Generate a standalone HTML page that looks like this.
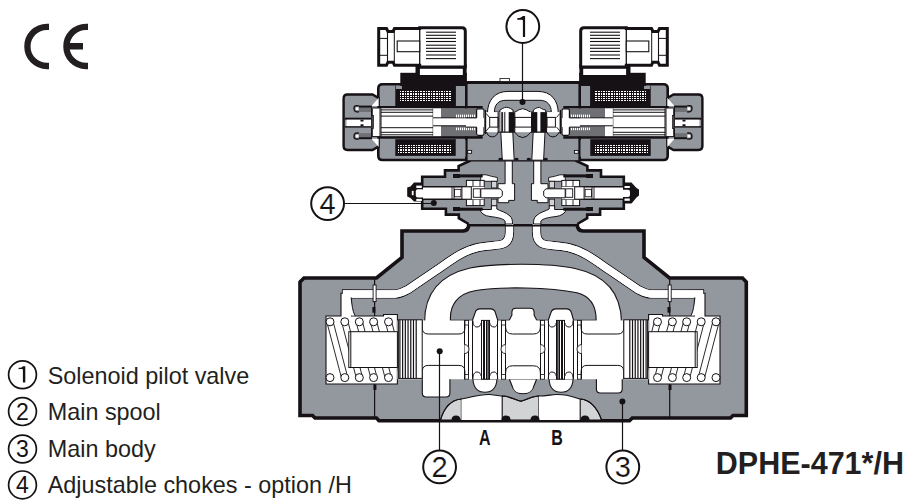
<!DOCTYPE html>
<html><head><meta charset="utf-8"><style>
html,body{margin:0;padding:0;background:#fff;}
body{width:908px;height:504px;overflow:hidden;position:relative;}
svg{position:absolute;left:0;top:0;}
.t{font-family:"Liberation Sans",sans-serif;}
</style></head><body>
<svg width="908" height="504" viewBox="0 0 908 504">
<g fill="none" stroke="#231f20" stroke-width="6.3"><path d="M49,26.8 L47,26.8 A19.6,19.6 0 0 0 47,66 L49,66"/><path d="M88,26.8 L86,26.8 A19.6,19.6 0 0 0 86,66 L88,66"/></g>
<rect x="64.50" y="43.00" width="18.50" height="6.50" fill="#231f20" />
<path d="M300,415.5 L312.5,415.5 L315,418 L376.5,418 L379,420.8 L629.5,420.8 L632.3,418 L730.5,418 L733,415.5 L746.3,415.5 L746.3,282 L742.5,278 L669.5,278 L644,257.5 L644,231 L583,231 Q577,230.5 577.3,224 L468.7,224 Q469,230.5 463,231 L402,231 L402,257.5 L376.5,278 L304,278 L300,282 Z" fill="#93979e" stroke="#151115" stroke-width="3.6" /><path d="M346.5,318 L346.5,293.8 L395,294 C400,294 403,292 408,289.5 L436,270.5 C450,261 462,251 478,247.5 C490,245 499,246 504,243.5 C508.5,241 509.5,237 509.5,232 L509.5,222" fill="none" stroke="#151115" stroke-width="9.2" /><path d="M699.5,318 L699.5,293.8 L651,294 C646,294 643,292 638,289.5 L610,270.5 C596,261 584,251 568,247.5 C556,245 547,246 542,243.5 C537.5,241 536.5,237 536.5,232 L536.5,222" fill="none" stroke="#151115" stroke-width="9.2" /><path d="M346.5,318 L346.5,293.8 L395,294 C400,294 403,292 408,289.5 L436,270.5 C450,261 462,251 478,247.5 C490,245 499,246 504,243.5 C508.5,241 509.5,237 509.5,232 L509.5,222" fill="none" stroke="#ffffff" stroke-width="7.3" /><path d="M699.5,318 L699.5,293.8 L651,294 C646,294 643,292 638,289.5 L610,270.5 C596,261 584,251 568,247.5 C556,245 547,246 542,243.5 C537.5,241 536.5,237 536.5,232 L536.5,222" fill="none" stroke="#ffffff" stroke-width="7.3" /><path d="M424.6,322 C424.6,292 440,275 470,268 C495,263 550,263 575,268.5 C605,275 621,292 621.5,322 Z" fill="#ffffff" stroke="#151115" stroke-width="1.1" /><path d="M450.5,320.4 C449.5,306 457,293.5 476,290.5 C500,286.5 550,287 577,292.8 C590,296 596.2,306 596.2,320.4 L573.6,320.4 L571.5,313 Q570.5,308.9 566.5,308.9 L556,308.9 Q552,308.9 550.8,313 L548.2,320.4 L536.9,320.4 L534.1,315.2 L534.1,312.2 Q534,308.25 530,308.25 L516,308.25 Q512,308.25 511.9,312.2 L511.9,315.2 L509.1,320.4 L497.8,320.4 L495.5,313 Q494.5,308.9 490.5,308.9 L480,308.9 Q476,308.9 475,313 L472.4,320.4 Z" fill="#93979e" stroke="#151115" stroke-width="1.1" /><path d="M326,316 L341,316 L341,293.2 L351.5,293.2 L351.5,316 L383.5,316 L383.5,314.5 L397.4,314.5 L397.4,384 L326,384 Z" fill="#ffffff" stroke="#151115" stroke-width="1.1" /><path d="M720,316 L705,316 L705,293.2 L694.5,293.2 L694.5,316 L662.5,316 L662.5,314.5 L648.6,314.5 L648.6,384 L720,384 Z" fill="#ffffff" stroke="#151115" stroke-width="1.1" /><path d="M346.5,318 L346.5,293.8 L395,294 C400,294 403,292 408,289.5 L436,270.5 C450,261 462,251 478,247.5 C490,245 499,246 504,243.5 C508.5,241 509.5,237 509.5,232 L509.5,222" fill="none" stroke="#ffffff" stroke-width="7.3" /><path d="M699.5,318 L699.5,293.8 L651,294 C646,294 643,292 638,289.5 L610,270.5 C596,261 584,251 568,247.5 C556,245 547,246 542,243.5 C537.5,241 536.5,237 536.5,232 L536.5,222" fill="none" stroke="#ffffff" stroke-width="7.3" /><path d="M349.3,297.6 L351.1,297.6 C352,305 352.5,311 355,315.6 L349.3,315.6 Z" fill="#ffffff" /><path d="M696.7,297.6 L694.9,297.6 C694,305 693.5,311 691,315.6 L696.7,315.6 Z" fill="#ffffff" /><path d="M351.1,297.6 C352,305 352.5,311 355,315.6" fill="none" stroke="#151115" stroke-width="1" /><path d="M694.9,297.6 C694,305 693.5,311 691,315.6" fill="none" stroke="#151115" stroke-width="1" /><path d="M422.3,378 L422.3,393 Q422.3,397 426.3,397 L445.9,397 Q449.9,397 449.9,393 L449.9,378" fill="#ffffff" stroke="#151115" stroke-width="1.1" /><path d="M596.4,378 L596.4,389 Q596.4,393 600.4,393 L618.2,393 Q622.2,393 622.2,389 L622.2,378" fill="#ffffff" stroke="#151115" stroke-width="1.1" /><path d="M472.9,379 C473.2,384 474.4,392.3 484.95,392.3 C495.5,392.3 496.7,384 497,379 Z" fill="#ffffff" stroke="#151115" stroke-width="1.1" /><path d="M549,379 C549.3,384 550.5,392.3 561.05,392.3 C571.6,392.3 572.8000000000001,384 573.1,379 Z" fill="#ffffff" stroke="#151115" stroke-width="1.1" /><path d="M509.3,379 L512,385.7 C513,390 515,393.7 523,393.7 C531,393.7 533,390 534,385.7 L536.7,379 Z" fill="#ffffff" stroke="#151115" stroke-width="1.1" /><rect x="397.40" y="320.40" width="251.20" height="58.80" fill="#ffffff" /><path d="M440.5,420 C444,408 450,400 461.4,399 L461.4,420 Z" fill="#d2d3d5" stroke="#151115" stroke-width="1.1" /><path d="M461.4,420 L461.4,399 C470,398 478,394 490,394.5 C496,395 500,396 502.2,396 L502.2,420 Z" fill="#ffffff" /><path d="M502.2,420 L502.2,396 C510,396 515,400 521,401.2 C527,400 532,396 538.8,396 L538.8,420 Z" fill="#d2d3d5" stroke="#151115" stroke-width="1.1" /><path d="M538.8,420 L538.8,396 C545,396 550,395 556,394.5 C568,394 576,398 580.2,399 L580.2,420 Z" fill="#ffffff" /><path d="M580.2,420 L580.2,399 C592,400 598,410 601.6,420 Z" fill="#d2d3d5" stroke="#151115" stroke-width="1.1" /><path d="M440.5,420 C444,408 450,400 461.4,399 C470,398 478,394 490,394.5 C496,395 500,396 502.2,396 C510,396 515,400 521,401.2 C527,400 532,396 538.8,396 C545,396 550,395 556,394.5 C568,394 576,398 580.2,399 C592,400 598,410 601.6,420" fill="none" stroke="#151115" stroke-width="1.1" /><path d="M451.5,420 Q451.5,415.5 456,415.5 Q460.5,415.5 460.5,420 Z" fill="#151115" /><path d="M501.5,420 Q501.5,415.5 506,415.5 Q510.5,415.5 510.5,420 Z" fill="#151115" /><path d="M530.5,420 Q530.5,415.5 535,415.5 Q539.5,415.5 539.5,420 Z" fill="#151115" /><path d="M580.5,420 Q580.5,415.5 585,415.5 Q589.5,415.5 589.5,420 Z" fill="#151115" /><line x1="464.50" y1="320.40" x2="464.50" y2="379.20" stroke="#151115" stroke-width="1.0"/><line x1="468.50" y1="320.40" x2="468.50" y2="379.20" stroke="#151115" stroke-width="1.0"/><line x1="472.50" y1="320.40" x2="472.50" y2="379.20" stroke="#151115" stroke-width="1.0"/><line x1="497.50" y1="320.40" x2="497.50" y2="379.20" stroke="#151115" stroke-width="1.0"/><line x1="501.50" y1="320.40" x2="501.50" y2="379.20" stroke="#151115" stroke-width="1.0"/><line x1="505.50" y1="320.40" x2="505.50" y2="379.20" stroke="#151115" stroke-width="1.0"/><rect x="481.50" y="320.40" width="8.00" height="58.80" fill="#ffffff" stroke="#151115" stroke-width="1" /><rect x="483.00" y="320.40" width="2.00" height="58.80" fill="#151115" /><rect x="486.00" y="320.40" width="1.60" height="58.80" fill="#151115" /><line x1="488.50" y1="320.40" x2="488.50" y2="379.20" stroke="#151115" stroke-width="0.8"/><path d="M472.9,320.4 C473,325 474.5,327 477,327 C479.5,327 481.1,325 481.1,323" fill="none" stroke="#151115" stroke-width="1" /><path d="M489.8,323 C489.8,325 491.5,327 494,327 C496.5,327 497.7,325 497.7,320.4" fill="none" stroke="#151115" stroke-width="1" /><path d="M472.9,379.2 C473,374 474.5,372 477,372 C479.5,372 481.1,374 481.1,376" fill="none" stroke="#151115" stroke-width="1" /><path d="M489.8,376 C489.8,374 491.5,372 494,372 C496.5,372 497.7,374 497.7,379.2" fill="none" stroke="#151115" stroke-width="1" /><rect x="464.50" y="320.40" width="4.00" height="4.60" fill="#ffffff" stroke="#151115" stroke-width="0.8" /><rect x="464.50" y="374.60" width="4.00" height="4.60" fill="#ffffff" stroke="#151115" stroke-width="0.8" /><rect x="501.50" y="320.40" width="4.00" height="4.60" fill="#ffffff" stroke="#151115" stroke-width="0.8" /><rect x="501.50" y="374.60" width="4.00" height="4.60" fill="#ffffff" stroke="#151115" stroke-width="0.8" /><path d="M464.5,344.6 A4.5,4.5 0 0 1 464.5,353.6" fill="#ffffff" stroke="#151115" stroke-width="0.9" /><path d="M505.5,344.6 A4.5,4.5 0 0 0 505.5,353.6" fill="#ffffff" stroke="#151115" stroke-width="0.9" /><g transform="matrix(-1 0 0 1 1046 0)"><line x1="464.50" y1="320.40" x2="464.50" y2="379.20" stroke="#151115" stroke-width="1.0"/><line x1="468.50" y1="320.40" x2="468.50" y2="379.20" stroke="#151115" stroke-width="1.0"/><line x1="472.50" y1="320.40" x2="472.50" y2="379.20" stroke="#151115" stroke-width="1.0"/><line x1="497.50" y1="320.40" x2="497.50" y2="379.20" stroke="#151115" stroke-width="1.0"/><line x1="501.50" y1="320.40" x2="501.50" y2="379.20" stroke="#151115" stroke-width="1.0"/><line x1="505.50" y1="320.40" x2="505.50" y2="379.20" stroke="#151115" stroke-width="1.0"/><rect x="481.50" y="320.40" width="8.00" height="58.80" fill="#ffffff" stroke="#151115" stroke-width="1" /><rect x="483.00" y="320.40" width="2.00" height="58.80" fill="#151115" /><rect x="486.00" y="320.40" width="1.60" height="58.80" fill="#151115" /><line x1="488.50" y1="320.40" x2="488.50" y2="379.20" stroke="#151115" stroke-width="0.8"/><path d="M472.9,320.4 C473,325 474.5,327 477,327 C479.5,327 481.1,325 481.1,323" fill="none" stroke="#151115" stroke-width="1" /><path d="M489.8,323 C489.8,325 491.5,327 494,327 C496.5,327 497.7,325 497.7,320.4" fill="none" stroke="#151115" stroke-width="1" /><path d="M472.9,379.2 C473,374 474.5,372 477,372 C479.5,372 481.1,374 481.1,376" fill="none" stroke="#151115" stroke-width="1" /><path d="M489.8,376 C489.8,374 491.5,372 494,372 C496.5,372 497.7,374 497.7,379.2" fill="none" stroke="#151115" stroke-width="1" /><rect x="464.50" y="320.40" width="4.00" height="4.60" fill="#ffffff" stroke="#151115" stroke-width="0.8" /><rect x="464.50" y="374.60" width="4.00" height="4.60" fill="#ffffff" stroke="#151115" stroke-width="0.8" /><rect x="501.50" y="320.40" width="4.00" height="4.60" fill="#ffffff" stroke="#151115" stroke-width="0.8" /><rect x="501.50" y="374.60" width="4.00" height="4.60" fill="#ffffff" stroke="#151115" stroke-width="0.8" /><path d="M464.5,344.6 A4.5,4.5 0 0 1 464.5,353.6" fill="#ffffff" stroke="#151115" stroke-width="0.9" /><path d="M505.5,344.6 A4.5,4.5 0 0 0 505.5,353.6" fill="#ffffff" stroke="#151115" stroke-width="0.9" /></g><path d="M505.6,320.4 L505.6,327 Q505.6,334 512.6,334 L533.4,334 Q540.4,334 540.4,327 L540.4,320.4" fill="none" stroke="#151115" stroke-width="1" /><path d="M505.6,379.2 L505.6,372.8 Q505.6,365.8 512.6,365.8 L533.4,365.8 Q540.4,365.8 540.4,372.8 L540.4,379.2" fill="none" stroke="#151115" stroke-width="1" /><path d="M422.3,320.4 L422.3,328 Q422.3,334 428.3,334 L458.9,334 Q464.9,334 464.9,328 L464.9,320.4" fill="none" stroke="#151115" stroke-width="1" /><path d="M422.3,379.2 L422.3,371.4 Q422.3,365.4 428.3,365.4 L458.9,365.4 Q464.9,365.4 464.9,371.4 L464.9,379.2" fill="none" stroke="#151115" stroke-width="1" /><path d="M581.1,320.4 L581.1,328 Q581.1,334 587.1,334 L617.7,334 Q623.7,334 623.7,328 L623.7,320.4" fill="none" stroke="#151115" stroke-width="1" /><path d="M581.1,379.2 L581.1,371.4 Q581.1,365.4 587.1,365.4 L617.7,365.4 Q623.7,365.4 623.7,371.4 L623.7,379.2" fill="none" stroke="#151115" stroke-width="1" /><rect x="398.40" y="319.80" width="23.80" height="58.60" fill="#ffffff" stroke="#151115" stroke-width="1" /><line x1="399.90" y1="319.80" x2="399.90" y2="378.40" stroke="#151115" stroke-width="1.2"/><line x1="402.62" y1="319.80" x2="402.62" y2="378.40" stroke="#151115" stroke-width="1.2"/><line x1="405.33" y1="319.80" x2="405.33" y2="378.40" stroke="#151115" stroke-width="1.2"/><line x1="408.05" y1="319.80" x2="408.05" y2="378.40" stroke="#151115" stroke-width="1.2"/><line x1="410.77" y1="319.80" x2="410.77" y2="378.40" stroke="#151115" stroke-width="1.2"/><line x1="413.48" y1="319.80" x2="413.48" y2="378.40" stroke="#151115" stroke-width="1.2"/><line x1="416.20" y1="319.80" x2="416.20" y2="378.40" stroke="#151115" stroke-width="1.2"/><rect x="623.80" y="319.80" width="23.80" height="58.60" fill="#ffffff" stroke="#151115" stroke-width="1" /><line x1="646.10" y1="319.80" x2="646.10" y2="378.40" stroke="#151115" stroke-width="1.2"/><line x1="643.38" y1="319.80" x2="643.38" y2="378.40" stroke="#151115" stroke-width="1.2"/><line x1="640.67" y1="319.80" x2="640.67" y2="378.40" stroke="#151115" stroke-width="1.2"/><line x1="637.95" y1="319.80" x2="637.95" y2="378.40" stroke="#151115" stroke-width="1.2"/><line x1="635.23" y1="319.80" x2="635.23" y2="378.40" stroke="#151115" stroke-width="1.2"/><line x1="632.52" y1="319.80" x2="632.52" y2="378.40" stroke="#151115" stroke-width="1.2"/><line x1="629.80" y1="319.80" x2="629.80" y2="378.40" stroke="#151115" stroke-width="1.2"/><rect x="348.80" y="331.70" width="48.60" height="35.80" fill="#ffffff" stroke="#151115" stroke-width="1" /><line x1="350.80" y1="331.70" x2="350.80" y2="367.50" stroke="#151115" stroke-width="1"/><clipPath id="spc0"><path d="M326,316 L397.4,316 L397.4,331.7 L348.8,331.7 L348.8,367.5 L397.4,367.5 L397.4,384 L326,384 Z"/></clipPath><g clip-path="url(#spc0)"><line x1="326.80" y1="321.80" x2="341.40" y2="377.60" stroke="#151115" stroke-width="0.9"/><line x1="333.20" y1="321.80" x2="347.80" y2="377.60" stroke="#151115" stroke-width="0.9"/><line x1="341.60" y1="321.80" x2="356.20" y2="377.60" stroke="#151115" stroke-width="0.9"/><line x1="348.00" y1="321.80" x2="362.60" y2="377.60" stroke="#151115" stroke-width="0.9"/><line x1="356.10" y1="321.80" x2="370.70" y2="377.60" stroke="#151115" stroke-width="0.9"/><line x1="362.50" y1="321.80" x2="377.10" y2="377.60" stroke="#151115" stroke-width="0.9"/><line x1="370.40" y1="321.80" x2="385.00" y2="377.60" stroke="#151115" stroke-width="0.9"/><line x1="376.80" y1="321.80" x2="391.40" y2="377.60" stroke="#151115" stroke-width="0.9"/><line x1="385.30" y1="321.80" x2="399.90" y2="377.60" stroke="#151115" stroke-width="0.9"/><line x1="391.70" y1="321.80" x2="406.30" y2="377.60" stroke="#151115" stroke-width="0.9"/></g><circle cx="330.00" cy="321.80" r="4" fill="#ffffff" stroke="#151115" stroke-width="1"/><circle cx="330.00" cy="377.60" r="4" fill="#ffffff" stroke="#151115" stroke-width="1"/><circle cx="344.80" cy="321.80" r="4" fill="#ffffff" stroke="#151115" stroke-width="1"/><circle cx="344.80" cy="377.60" r="4" fill="#ffffff" stroke="#151115" stroke-width="1"/><circle cx="359.30" cy="321.80" r="4" fill="#ffffff" stroke="#151115" stroke-width="1"/><circle cx="359.30" cy="377.60" r="4" fill="#ffffff" stroke="#151115" stroke-width="1"/><circle cx="373.60" cy="321.80" r="4" fill="#ffffff" stroke="#151115" stroke-width="1"/><circle cx="373.60" cy="377.60" r="4" fill="#ffffff" stroke="#151115" stroke-width="1"/><circle cx="388.50" cy="321.80" r="4" fill="#ffffff" stroke="#151115" stroke-width="1"/><circle cx="388.50" cy="377.60" r="4" fill="#ffffff" stroke="#151115" stroke-width="1"/><rect x="648.60" y="331.70" width="48.60" height="35.80" fill="#ffffff" stroke="#151115" stroke-width="1" /><line x1="695.20" y1="331.70" x2="695.20" y2="367.50" stroke="#151115" stroke-width="1"/><clipPath id="spc1"><path d="M720,316 L648.6,316 L648.6,331.7 L697.2,331.7 L697.2,367.5 L648.6,367.5 L648.6,384 L720,384 Z"/></clipPath><g clip-path="url(#spc1)"><line x1="712.80" y1="321.80" x2="698.20" y2="377.60" stroke="#151115" stroke-width="0.9"/><line x1="719.20" y1="321.80" x2="704.60" y2="377.60" stroke="#151115" stroke-width="0.9"/><line x1="698.00" y1="321.80" x2="683.40" y2="377.60" stroke="#151115" stroke-width="0.9"/><line x1="704.40" y1="321.80" x2="689.80" y2="377.60" stroke="#151115" stroke-width="0.9"/><line x1="683.50" y1="321.80" x2="668.90" y2="377.60" stroke="#151115" stroke-width="0.9"/><line x1="689.90" y1="321.80" x2="675.30" y2="377.60" stroke="#151115" stroke-width="0.9"/><line x1="669.20" y1="321.80" x2="654.60" y2="377.60" stroke="#151115" stroke-width="0.9"/><line x1="675.60" y1="321.80" x2="661.00" y2="377.60" stroke="#151115" stroke-width="0.9"/><line x1="654.30" y1="321.80" x2="639.70" y2="377.60" stroke="#151115" stroke-width="0.9"/><line x1="660.70" y1="321.80" x2="646.10" y2="377.60" stroke="#151115" stroke-width="0.9"/></g><circle cx="716.00" cy="321.80" r="4" fill="#ffffff" stroke="#151115" stroke-width="1"/><circle cx="716.00" cy="377.60" r="4" fill="#ffffff" stroke="#151115" stroke-width="1"/><circle cx="701.20" cy="321.80" r="4" fill="#ffffff" stroke="#151115" stroke-width="1"/><circle cx="701.20" cy="377.60" r="4" fill="#ffffff" stroke="#151115" stroke-width="1"/><circle cx="686.70" cy="321.80" r="4" fill="#ffffff" stroke="#151115" stroke-width="1"/><circle cx="686.70" cy="377.60" r="4" fill="#ffffff" stroke="#151115" stroke-width="1"/><circle cx="672.40" cy="321.80" r="4" fill="#ffffff" stroke="#151115" stroke-width="1"/><circle cx="672.40" cy="377.60" r="4" fill="#ffffff" stroke="#151115" stroke-width="1"/><circle cx="657.50" cy="321.80" r="4" fill="#ffffff" stroke="#151115" stroke-width="1"/><circle cx="657.50" cy="377.60" r="4" fill="#ffffff" stroke="#151115" stroke-width="1"/><circle cx="439.70" cy="351.20" r="3" fill="#151115"/><circle cx="622.40" cy="401.50" r="3" fill="#151115"/><line x1="374.60" y1="384.00" x2="374.60" y2="419.00" stroke="#151115" stroke-width="1.2"/><line x1="374.60" y1="278.00" x2="374.60" y2="316.00" stroke="#151115" stroke-width="1.2"/><rect x="373.10" y="285.00" width="3.00" height="16.60" fill="#ffffff" stroke="#151115" stroke-width="0.9" /><rect x="372.40" y="307.00" width="3.00" height="5.70" fill="#151115" /><rect x="373.40" y="384.50" width="3.00" height="5.50" fill="#151115" /><line x1="669.70" y1="384.00" x2="669.70" y2="419.00" stroke="#151115" stroke-width="1.2"/><line x1="669.70" y1="278.00" x2="669.70" y2="316.00" stroke="#151115" stroke-width="1.2"/><rect x="668.20" y="285.00" width="3.00" height="16.60" fill="#ffffff" stroke="#151115" stroke-width="0.9" /><rect x="667.50" y="307.00" width="3.00" height="5.70" fill="#151115" /><rect x="668.50" y="384.50" width="3.00" height="5.50" fill="#151115" /><line x1="747.00" y1="282.00" x2="747.00" y2="415.50" stroke="#151115" stroke-width="1.6"/>
<path d="M470.5,160.5 L458.6,166 L458.6,170.4 L445,170.4 L445,176.7 L422.2,176.7 L422.2,208.8 L445.9,208.8 L445.9,214.6 L458.8,214.6 L458.8,218.2 L468.7,224 L523.5,224 L523.5,160.5 Z" fill="#93979e" /><path d="M470.5,160.5 L458.6,166 L458.6,170.4 L445,170.4 L445,176.7 L422.2,176.7 L422.2,208.8 L445.9,208.8 L445.9,214.6 L458.8,214.6 L458.8,218.2 L468.7,224" fill="none" stroke="#151115" stroke-width="2.6" /><path d="M505.1,160 L505.1,183.7 L498,183.7 L498,202.7 L508.7,202.7 L508.7,200.4 L514.6,200.4 L514.6,183.7 L512.3,183.7 L512.3,160 Z" fill="#ffffff" stroke="#151115" stroke-width="1" /><path d="M480.7,181.3 L480.7,174.8 L486,174.8 C490,176 494,177 497.4,177.5 L497.4,181.3 Z" fill="#ffffff" stroke="#151115" stroke-width="0.9" /><path d="M480.7,209.5 L491.4,209.5 L491.4,205.7 L496.8,205.7 L496.8,209 C500,211 506,212 510,216 C512,218 512.5,220 512.5,224 L505.1,224 L505.1,221 C503,218.5 498,217.5 490,216.5 C485,216 482,213.5 480.7,211.5 Z" fill="#ffffff" stroke="#151115" stroke-width="1" /><rect x="459.40" y="174.40" width="23.30" height="3.00" fill="#151115" /><rect x="459.40" y="207.70" width="23.30" height="3.00" fill="#151115" /><rect x="453.00" y="174.00" width="7.00" height="4.00" fill="#151115" /><rect x="453.00" y="207.00" width="7.00" height="4.00" fill="#151115" /><rect x="466.40" y="180.40" width="17.80" height="6.40" fill="#ffffff" stroke="#151115" stroke-width="1" /><rect x="466.40" y="199.20" width="17.80" height="6.40" fill="#ffffff" stroke="#151115" stroke-width="1" /><line x1="473.00" y1="180.40" x2="473.00" y2="186.80" stroke="#151115" stroke-width="0.9"/><line x1="480.00" y1="180.40" x2="480.00" y2="186.80" stroke="#151115" stroke-width="0.9"/><line x1="473.00" y1="199.20" x2="473.00" y2="205.60" stroke="#151115" stroke-width="0.9"/><line x1="480.00" y1="199.20" x2="480.00" y2="205.60" stroke="#151115" stroke-width="0.9"/><rect x="491.40" y="181.30" width="5.40" height="6.60" fill="#d2d3d5" stroke="#151115" stroke-width="0.8" /><rect x="491.40" y="199.20" width="5.40" height="6.50" fill="#d2d3d5" stroke="#151115" stroke-width="0.8" /><rect x="421.00" y="186.80" width="63.00" height="12.40" fill="#ffffff" /><line x1="421.00" y1="186.80" x2="466.00" y2="186.80" stroke="#151115" stroke-width="1.6"/><line x1="421.00" y1="199.20" x2="466.00" y2="199.20" stroke="#151115" stroke-width="1.6"/><line x1="452.00" y1="186.80" x2="452.00" y2="199.20" stroke="#151115" stroke-width="0.9"/><line x1="454.00" y1="186.80" x2="454.00" y2="199.20" stroke="#151115" stroke-width="0.9"/><rect x="454.50" y="189.30" width="6.40" height="7.50" fill="#ffffff" stroke="#151115" stroke-width="0.9" /><rect x="461.90" y="186.80" width="9.40" height="12.40" fill="#ffffff" stroke="#151115" stroke-width="1" /><rect x="473.30" y="188.80" width="7.00" height="8.50" fill="#ffffff" stroke="#151115" stroke-width="0.9" /><path d="M480.8,188.8 L500,188.8 L502.3,191 L502.3,195.6 L500,197.8 L480.8,197.8 Z" fill="#ffffff" stroke="#151115" stroke-width="1" />
<g transform="matrix(-1 0 0 1 1046 0)"><path d="M470.5,160.5 L458.6,166 L458.6,170.4 L445,170.4 L445,176.7 L422.2,176.7 L422.2,208.8 L445.9,208.8 L445.9,214.6 L458.8,214.6 L458.8,218.2 L468.7,224 L523.5,224 L523.5,160.5 Z" fill="#93979e" /><path d="M470.5,160.5 L458.6,166 L458.6,170.4 L445,170.4 L445,176.7 L422.2,176.7 L422.2,208.8 L445.9,208.8 L445.9,214.6 L458.8,214.6 L458.8,218.2 L468.7,224" fill="none" stroke="#151115" stroke-width="2.6" /><path d="M505.1,160 L505.1,183.7 L498,183.7 L498,202.7 L508.7,202.7 L508.7,200.4 L514.6,200.4 L514.6,183.7 L512.3,183.7 L512.3,160 Z" fill="#ffffff" stroke="#151115" stroke-width="1" /><path d="M480.7,181.3 L480.7,174.8 L486,174.8 C490,176 494,177 497.4,177.5 L497.4,181.3 Z" fill="#ffffff" stroke="#151115" stroke-width="0.9" /><path d="M480.7,209.5 L491.4,209.5 L491.4,205.7 L496.8,205.7 L496.8,209 C500,211 506,212 510,216 C512,218 512.5,220 512.5,224 L505.1,224 L505.1,221 C503,218.5 498,217.5 490,216.5 C485,216 482,213.5 480.7,211.5 Z" fill="#ffffff" stroke="#151115" stroke-width="1" /><rect x="459.40" y="174.40" width="23.30" height="3.00" fill="#151115" /><rect x="459.40" y="207.70" width="23.30" height="3.00" fill="#151115" /><rect x="453.00" y="174.00" width="7.00" height="4.00" fill="#151115" /><rect x="453.00" y="207.00" width="7.00" height="4.00" fill="#151115" /><rect x="466.40" y="180.40" width="17.80" height="6.40" fill="#ffffff" stroke="#151115" stroke-width="1" /><rect x="466.40" y="199.20" width="17.80" height="6.40" fill="#ffffff" stroke="#151115" stroke-width="1" /><line x1="473.00" y1="180.40" x2="473.00" y2="186.80" stroke="#151115" stroke-width="0.9"/><line x1="480.00" y1="180.40" x2="480.00" y2="186.80" stroke="#151115" stroke-width="0.9"/><line x1="473.00" y1="199.20" x2="473.00" y2="205.60" stroke="#151115" stroke-width="0.9"/><line x1="480.00" y1="199.20" x2="480.00" y2="205.60" stroke="#151115" stroke-width="0.9"/><rect x="491.40" y="181.30" width="5.40" height="6.60" fill="#d2d3d5" stroke="#151115" stroke-width="0.8" /><rect x="491.40" y="199.20" width="5.40" height="6.50" fill="#d2d3d5" stroke="#151115" stroke-width="0.8" /><rect x="421.00" y="186.80" width="63.00" height="12.40" fill="#ffffff" /><line x1="421.00" y1="186.80" x2="466.00" y2="186.80" stroke="#151115" stroke-width="1.6"/><line x1="421.00" y1="199.20" x2="466.00" y2="199.20" stroke="#151115" stroke-width="1.6"/><line x1="452.00" y1="186.80" x2="452.00" y2="199.20" stroke="#151115" stroke-width="0.9"/><line x1="454.00" y1="186.80" x2="454.00" y2="199.20" stroke="#151115" stroke-width="0.9"/><rect x="454.50" y="189.30" width="6.40" height="7.50" fill="#ffffff" stroke="#151115" stroke-width="0.9" /><rect x="461.90" y="186.80" width="9.40" height="12.40" fill="#ffffff" stroke="#151115" stroke-width="1" /><rect x="473.30" y="188.80" width="7.00" height="8.50" fill="#ffffff" stroke="#151115" stroke-width="0.9" /><path d="M480.8,188.8 L500,188.8 L502.3,191 L502.3,195.6 L500,197.8 L480.8,197.8 Z" fill="#ffffff" stroke="#151115" stroke-width="1" /></g>
<path d="M423,182.6 L414,182.6 L410.5,186.5 L407.2,187.5 L407.2,196.5 L410.5,198 L414,201.6 L423,201.6 Z" fill="#151115" /><rect x="416.30" y="185.60" width="5.50" height="2.40" fill="#ffffff" /><rect x="416.30" y="198.90" width="5.50" height="2.10" fill="#ffffff" /><rect x="415.80" y="189.30" width="8.20" height="8.10" fill="#ffffff" rx="2" /><rect x="411.80" y="190.80" width="1.80" height="4.40" fill="#ffffff" /><path d="M623,182.6 L631.5,182.6 L636.5,188 L639,189.5 L639,195.5 L636.5,197.5 L631.5,203.6 L623,203.6 Z" fill="#151115" /><rect x="624.50" y="186.00" width="5.30" height="2.00" fill="#ffffff" /><rect x="624.50" y="198.50" width="5.30" height="2.30" fill="#ffffff" /><rect x="621.00" y="189.70" width="9.00" height="7.30" fill="#ffffff" rx="2" /><circle cx="433.80" cy="203.00" r="3" fill="#151115"/>
<line x1="468.00" y1="225.80" x2="578.00" y2="225.80" stroke="#151115" stroke-width="1.4"/>
<line x1="466.00" y1="160.40" x2="580.00" y2="160.40" stroke="#151115" stroke-width="2.2"/>
<rect x="466.00" y="82.20" width="114.00" height="78.00" fill="#93979e" /><line x1="466.00" y1="82.50" x2="580.00" y2="82.50" stroke="#151115" stroke-width="2.8"/><rect x="500.00" y="78.50" width="9.50" height="3.00" fill="#ffffff" stroke="#151115" stroke-width="0.8" /><rect x="467.70" y="150.40" width="3.90" height="2.90" fill="#ffffff" stroke="#151115" stroke-width="0.9" /><rect x="574.40" y="150.40" width="3.90" height="2.90" fill="#ffffff" stroke="#151115" stroke-width="0.9" /><path d="M487.4,114 C487.4,100 495,91.4 508,91.4 L538,91.4 C551,91.4 558.3,100 558.3,114 Z" fill="#ffffff" stroke="#151115" stroke-width="1" /><path d="M494.4,112.1 C494.4,105 498,100.3 506,100.3 L540,100.3 C547,100.3 551.3,105 551.3,112.1 L545.7,112.1 L545.7,110 Q543,109.6 541.5,108.5 Q539.5,107.3 539.5,107.3 Q537.5,107.3 535.5,108.5 Q534,109.6 533.3,110 L533.3,112.1 L530.7,112.1 Q528.5,111.2 526.5,109.8 Q522.7,107.6 518.9,109.8 Q517,111.2 514.8,112.1 L513.1,112.1 L513.1,110 Q512,109.6 510.5,108.5 Q508.5,107.3 506.5,107.3 Q504.5,107.3 502.5,108.5 Q501,109.6 499.9,110 L499.9,112.1 Z" fill="#93979e" stroke="#151115" stroke-width="1" /><rect x="484.50" y="112.10" width="75.00" height="20.10" fill="#ffffff" /><path d="M470,132.2 L486.6,132.2 Q487.5,135.5 490,136.5 Q492.3,137.2 494.6,136.5 Q497,135.5 498.1,132.2 L500.8,132.2 L512.2,132.2 L514.8,132.2 Q516.5,134.5 518.5,136.2 Q522.7,139 526.9,136.2 Q529,134.5 530.7,132.2 L533,132.2 L544,132.2 L547,132.2 Q548.2,135.5 550.7,136.5 Q553,137.2 555.2,136.5 Q557.8,135.5 559,132.2 L576,132.2 L576,140 L470,140 Z" fill="#93979e" /><path d="M486.6,132.2 Q487.5,135.5 490,136.5 Q492.3,137.2 494.6,136.5 Q497,135.5 498.1,132.2" fill="none" stroke="#151115" stroke-width="1" /><path d="M514.8,132.2 Q516.5,134.5 518.5,136.2 Q522.7,139 526.9,136.2 Q529,134.5 530.7,132.2" fill="none" stroke="#151115" stroke-width="1" /><path d="M547,132.2 Q548.2,135.5 550.7,136.5 Q553,137.2 555.2,136.5 Q557.8,135.5 559,132.2" fill="none" stroke="#151115" stroke-width="1" /><line x1="476.50" y1="132.20" x2="486.60" y2="132.20" stroke="#151115" stroke-width="1"/><line x1="498.10" y1="132.20" x2="514.80" y2="132.20" stroke="#151115" stroke-width="1"/><line x1="530.70" y1="132.20" x2="547.00" y2="132.20" stroke="#151115" stroke-width="1"/><line x1="559.00" y1="132.20" x2="570.00" y2="132.20" stroke="#151115" stroke-width="1"/><path d="M500.8,132.2 L512.8,132.2 L514.2,160.2 L502.3,160.2 Z" fill="#ffffff" stroke="#151115" stroke-width="1" /><path d="M533.2,132.2 L545,132.2 L543.6,160.2 L531.8,160.2 Z" fill="#ffffff" stroke="#151115" stroke-width="1" /><path d="M498.5,160.2 L498.5,158.5 Q500.5,156.8 502.5,158.5 L502.5,160.2 Z" fill="#151115" /><path d="M514.5,160.2 L514.5,158.5 Q516.5,156.8 518.5,158.5 L518.5,160.2 Z" fill="#151115" /><path d="M526.8,160.2 L526.8,158.5 Q528.8,156.8 530.8,158.5 L530.8,160.2 Z" fill="#151115" /><path d="M543.7,160.2 L543.7,158.5 Q545.7,156.8 547.7,158.5 L547.7,160.2 Z" fill="#151115" /><rect x="489.70" y="117.40" width="8.40" height="9.70" fill="#ffffff" stroke="#151115" stroke-width="1" /><rect x="514.80" y="117.40" width="16.80" height="9.70" fill="#ffffff" stroke="#151115" stroke-width="1" /><rect x="547.00" y="117.40" width="8.40" height="9.70" fill="#ffffff" stroke="#151115" stroke-width="1" /><line x1="498.10" y1="112.10" x2="498.10" y2="132.20" stroke="#151115" stroke-width="1"/><line x1="499.10" y1="112.10" x2="499.10" y2="132.20" stroke="#151115" stroke-width="1"/><line x1="501.20" y1="112.10" x2="501.20" y2="132.20" stroke="#151115" stroke-width="1"/><line x1="502.60" y1="112.10" x2="502.60" y2="132.20" stroke="#151115" stroke-width="1"/><line x1="504.80" y1="112.10" x2="504.80" y2="132.20" stroke="#151115" stroke-width="1"/><line x1="514.80" y1="112.10" x2="514.80" y2="132.20" stroke="#151115" stroke-width="1"/><line x1="531.60" y1="112.10" x2="531.60" y2="132.20" stroke="#151115" stroke-width="1"/><line x1="546.60" y1="112.10" x2="546.60" y2="132.20" stroke="#151115" stroke-width="1"/><rect x="508.70" y="112.10" width="5.90" height="20.10" fill="#151115" /><rect x="531.60" y="112.10" width="5.70" height="20.10" fill="#151115" /><rect x="540.40" y="112.10" width="6.20" height="20.10" fill="#151115" />
<path d="M382.5,84.3 L466.3,84.3 L466.3,160 L382.5,160 Q378.3,160 378.3,155.8 L378.3,88.5 Q378.3,84.3 382.5,84.3 Z" fill="#93979e" stroke="#151115" stroke-width="2.6" /><rect x="395.30" y="85.70" width="60.60" height="20.40" fill="#151115" /><rect x="395.30" y="139.20" width="60.60" height="16.70" fill="#151115" /><rect x="400.00" y="91.00" width="1.00" height="1.00" fill="#ffffff" /><rect x="400.00" y="93.00" width="1.00" height="2.00" fill="#ffffff" /><rect x="400.00" y="96.00" width="1.00" height="1.00" fill="#ffffff" /><rect x="400.00" y="98.00" width="1.00" height="1.00" fill="#ffffff" /><rect x="400.00" y="100.00" width="1.00" height="1.00" fill="#ffffff" /><rect x="402.00" y="91.00" width="2.00" height="1.00" fill="#ffffff" /><rect x="402.00" y="93.00" width="2.00" height="2.00" fill="#ffffff" /><rect x="402.00" y="96.00" width="2.00" height="1.00" fill="#ffffff" /><rect x="402.00" y="98.00" width="2.00" height="1.00" fill="#ffffff" /><rect x="402.00" y="100.00" width="2.00" height="1.00" fill="#ffffff" /><rect x="405.00" y="91.00" width="1.00" height="1.00" fill="#ffffff" /><rect x="405.00" y="93.00" width="1.00" height="2.00" fill="#ffffff" /><rect x="405.00" y="96.00" width="1.00" height="1.00" fill="#ffffff" /><rect x="405.00" y="98.00" width="1.00" height="1.00" fill="#ffffff" /><rect x="405.00" y="100.00" width="1.00" height="1.00" fill="#ffffff" /><rect x="407.00" y="91.00" width="2.00" height="1.00" fill="#ffffff" /><rect x="407.00" y="93.00" width="2.00" height="2.00" fill="#ffffff" /><rect x="407.00" y="96.00" width="2.00" height="1.00" fill="#ffffff" /><rect x="407.00" y="98.00" width="2.00" height="1.00" fill="#ffffff" /><rect x="407.00" y="100.00" width="2.00" height="1.00" fill="#ffffff" /><rect x="410.00" y="91.00" width="2.00" height="1.00" fill="#ffffff" /><rect x="410.00" y="93.00" width="2.00" height="2.00" fill="#ffffff" /><rect x="410.00" y="96.00" width="2.00" height="1.00" fill="#ffffff" /><rect x="410.00" y="98.00" width="2.00" height="1.00" fill="#ffffff" /><rect x="410.00" y="100.00" width="2.00" height="1.00" fill="#ffffff" /><rect x="413.00" y="91.00" width="1.00" height="1.00" fill="#ffffff" /><rect x="413.00" y="93.00" width="1.00" height="2.00" fill="#ffffff" /><rect x="413.00" y="96.00" width="1.00" height="1.00" fill="#ffffff" /><rect x="413.00" y="98.00" width="1.00" height="1.00" fill="#ffffff" /><rect x="413.00" y="100.00" width="1.00" height="1.00" fill="#ffffff" /><rect x="415.00" y="91.00" width="2.00" height="1.00" fill="#ffffff" /><rect x="415.00" y="93.00" width="2.00" height="2.00" fill="#ffffff" /><rect x="415.00" y="96.00" width="2.00" height="1.00" fill="#ffffff" /><rect x="415.00" y="98.00" width="2.00" height="1.00" fill="#ffffff" /><rect x="415.00" y="100.00" width="2.00" height="1.00" fill="#ffffff" /><rect x="418.00" y="91.00" width="1.00" height="1.00" fill="#ffffff" /><rect x="418.00" y="93.00" width="1.00" height="2.00" fill="#ffffff" /><rect x="418.00" y="96.00" width="1.00" height="1.00" fill="#ffffff" /><rect x="418.00" y="98.00" width="1.00" height="1.00" fill="#ffffff" /><rect x="418.00" y="100.00" width="1.00" height="1.00" fill="#ffffff" /><rect x="420.00" y="91.00" width="2.00" height="1.00" fill="#ffffff" /><rect x="420.00" y="93.00" width="2.00" height="2.00" fill="#ffffff" /><rect x="420.00" y="96.00" width="2.00" height="1.00" fill="#ffffff" /><rect x="420.00" y="98.00" width="2.00" height="1.00" fill="#ffffff" /><rect x="420.00" y="100.00" width="2.00" height="1.00" fill="#ffffff" /><rect x="423.00" y="91.00" width="2.00" height="1.00" fill="#ffffff" /><rect x="423.00" y="93.00" width="2.00" height="2.00" fill="#ffffff" /><rect x="423.00" y="96.00" width="2.00" height="1.00" fill="#ffffff" /><rect x="423.00" y="98.00" width="2.00" height="1.00" fill="#ffffff" /><rect x="423.00" y="100.00" width="2.00" height="1.00" fill="#ffffff" /><rect x="426.00" y="91.00" width="1.00" height="1.00" fill="#ffffff" /><rect x="426.00" y="93.00" width="1.00" height="2.00" fill="#ffffff" /><rect x="426.00" y="96.00" width="1.00" height="1.00" fill="#ffffff" /><rect x="426.00" y="98.00" width="1.00" height="1.00" fill="#ffffff" /><rect x="426.00" y="100.00" width="1.00" height="1.00" fill="#ffffff" /><rect x="428.00" y="91.00" width="2.00" height="1.00" fill="#ffffff" /><rect x="428.00" y="93.00" width="2.00" height="2.00" fill="#ffffff" /><rect x="428.00" y="96.00" width="2.00" height="1.00" fill="#ffffff" /><rect x="428.00" y="98.00" width="2.00" height="1.00" fill="#ffffff" /><rect x="428.00" y="100.00" width="2.00" height="1.00" fill="#ffffff" /><rect x="431.00" y="91.00" width="1.00" height="1.00" fill="#ffffff" /><rect x="431.00" y="93.00" width="1.00" height="2.00" fill="#ffffff" /><rect x="431.00" y="96.00" width="1.00" height="1.00" fill="#ffffff" /><rect x="431.00" y="98.00" width="1.00" height="1.00" fill="#ffffff" /><rect x="431.00" y="100.00" width="1.00" height="1.00" fill="#ffffff" /><rect x="433.00" y="91.00" width="2.00" height="1.00" fill="#ffffff" /><rect x="433.00" y="93.00" width="2.00" height="2.00" fill="#ffffff" /><rect x="433.00" y="96.00" width="2.00" height="1.00" fill="#ffffff" /><rect x="433.00" y="98.00" width="2.00" height="1.00" fill="#ffffff" /><rect x="433.00" y="100.00" width="2.00" height="1.00" fill="#ffffff" /><rect x="436.00" y="91.00" width="2.00" height="1.00" fill="#ffffff" /><rect x="436.00" y="93.00" width="2.00" height="2.00" fill="#ffffff" /><rect x="436.00" y="96.00" width="2.00" height="1.00" fill="#ffffff" /><rect x="436.00" y="98.00" width="2.00" height="1.00" fill="#ffffff" /><rect x="436.00" y="100.00" width="2.00" height="1.00" fill="#ffffff" /><rect x="439.00" y="91.00" width="1.00" height="1.00" fill="#ffffff" /><rect x="439.00" y="93.00" width="1.00" height="2.00" fill="#ffffff" /><rect x="439.00" y="96.00" width="1.00" height="1.00" fill="#ffffff" /><rect x="439.00" y="98.00" width="1.00" height="1.00" fill="#ffffff" /><rect x="439.00" y="100.00" width="1.00" height="1.00" fill="#ffffff" /><rect x="441.00" y="91.00" width="2.00" height="1.00" fill="#ffffff" /><rect x="441.00" y="93.00" width="2.00" height="2.00" fill="#ffffff" /><rect x="441.00" y="96.00" width="2.00" height="1.00" fill="#ffffff" /><rect x="441.00" y="98.00" width="2.00" height="1.00" fill="#ffffff" /><rect x="441.00" y="100.00" width="2.00" height="1.00" fill="#ffffff" /><rect x="444.00" y="91.00" width="1.00" height="1.00" fill="#ffffff" /><rect x="444.00" y="93.00" width="1.00" height="2.00" fill="#ffffff" /><rect x="444.00" y="96.00" width="1.00" height="1.00" fill="#ffffff" /><rect x="444.00" y="98.00" width="1.00" height="1.00" fill="#ffffff" /><rect x="444.00" y="100.00" width="1.00" height="1.00" fill="#ffffff" /><rect x="446.00" y="91.00" width="2.00" height="1.00" fill="#ffffff" /><rect x="446.00" y="93.00" width="2.00" height="2.00" fill="#ffffff" /><rect x="446.00" y="96.00" width="2.00" height="1.00" fill="#ffffff" /><rect x="446.00" y="98.00" width="2.00" height="1.00" fill="#ffffff" /><rect x="446.00" y="100.00" width="2.00" height="1.00" fill="#ffffff" /><rect x="449.00" y="91.00" width="2.00" height="1.00" fill="#ffffff" /><rect x="449.00" y="93.00" width="2.00" height="2.00" fill="#ffffff" /><rect x="449.00" y="96.00" width="2.00" height="1.00" fill="#ffffff" /><rect x="449.00" y="98.00" width="2.00" height="1.00" fill="#ffffff" /><rect x="449.00" y="100.00" width="2.00" height="1.00" fill="#ffffff" /><rect x="398.00" y="145.00" width="1.00" height="1.00" fill="#ffffff" /><rect x="398.00" y="147.00" width="1.00" height="1.00" fill="#ffffff" /><rect x="398.00" y="149.00" width="1.00" height="2.00" fill="#ffffff" /><rect x="398.00" y="152.00" width="1.00" height="1.00" fill="#ffffff" /><rect x="400.00" y="145.00" width="2.00" height="1.00" fill="#ffffff" /><rect x="400.00" y="147.00" width="2.00" height="1.00" fill="#ffffff" /><rect x="400.00" y="149.00" width="2.00" height="2.00" fill="#ffffff" /><rect x="400.00" y="152.00" width="2.00" height="1.00" fill="#ffffff" /><rect x="403.00" y="145.00" width="1.00" height="1.00" fill="#ffffff" /><rect x="403.00" y="147.00" width="1.00" height="1.00" fill="#ffffff" /><rect x="403.00" y="149.00" width="1.00" height="2.00" fill="#ffffff" /><rect x="403.00" y="152.00" width="1.00" height="1.00" fill="#ffffff" /><rect x="405.00" y="145.00" width="2.00" height="1.00" fill="#ffffff" /><rect x="405.00" y="147.00" width="2.00" height="1.00" fill="#ffffff" /><rect x="405.00" y="149.00" width="2.00" height="2.00" fill="#ffffff" /><rect x="405.00" y="152.00" width="2.00" height="1.00" fill="#ffffff" /><rect x="408.00" y="145.00" width="2.00" height="1.00" fill="#ffffff" /><rect x="408.00" y="147.00" width="2.00" height="1.00" fill="#ffffff" /><rect x="408.00" y="149.00" width="2.00" height="2.00" fill="#ffffff" /><rect x="408.00" y="152.00" width="2.00" height="1.00" fill="#ffffff" /><rect x="411.00" y="145.00" width="1.00" height="1.00" fill="#ffffff" /><rect x="411.00" y="147.00" width="1.00" height="1.00" fill="#ffffff" /><rect x="411.00" y="149.00" width="1.00" height="2.00" fill="#ffffff" /><rect x="411.00" y="152.00" width="1.00" height="1.00" fill="#ffffff" /><rect x="413.00" y="145.00" width="2.00" height="1.00" fill="#ffffff" /><rect x="413.00" y="147.00" width="2.00" height="1.00" fill="#ffffff" /><rect x="413.00" y="149.00" width="2.00" height="2.00" fill="#ffffff" /><rect x="413.00" y="152.00" width="2.00" height="1.00" fill="#ffffff" /><rect x="416.00" y="145.00" width="1.00" height="1.00" fill="#ffffff" /><rect x="416.00" y="147.00" width="1.00" height="1.00" fill="#ffffff" /><rect x="416.00" y="149.00" width="1.00" height="2.00" fill="#ffffff" /><rect x="416.00" y="152.00" width="1.00" height="1.00" fill="#ffffff" /><rect x="418.00" y="145.00" width="2.00" height="1.00" fill="#ffffff" /><rect x="418.00" y="147.00" width="2.00" height="1.00" fill="#ffffff" /><rect x="418.00" y="149.00" width="2.00" height="2.00" fill="#ffffff" /><rect x="418.00" y="152.00" width="2.00" height="1.00" fill="#ffffff" /><rect x="421.00" y="145.00" width="2.00" height="1.00" fill="#ffffff" /><rect x="421.00" y="147.00" width="2.00" height="1.00" fill="#ffffff" /><rect x="421.00" y="149.00" width="2.00" height="2.00" fill="#ffffff" /><rect x="421.00" y="152.00" width="2.00" height="1.00" fill="#ffffff" /><rect x="424.00" y="145.00" width="1.00" height="1.00" fill="#ffffff" /><rect x="424.00" y="147.00" width="1.00" height="1.00" fill="#ffffff" /><rect x="424.00" y="149.00" width="1.00" height="2.00" fill="#ffffff" /><rect x="424.00" y="152.00" width="1.00" height="1.00" fill="#ffffff" /><rect x="426.00" y="145.00" width="2.00" height="1.00" fill="#ffffff" /><rect x="426.00" y="147.00" width="2.00" height="1.00" fill="#ffffff" /><rect x="426.00" y="149.00" width="2.00" height="2.00" fill="#ffffff" /><rect x="426.00" y="152.00" width="2.00" height="1.00" fill="#ffffff" /><rect x="429.00" y="145.00" width="1.00" height="1.00" fill="#ffffff" /><rect x="429.00" y="147.00" width="1.00" height="1.00" fill="#ffffff" /><rect x="429.00" y="149.00" width="1.00" height="2.00" fill="#ffffff" /><rect x="429.00" y="152.00" width="1.00" height="1.00" fill="#ffffff" /><rect x="431.00" y="145.00" width="2.00" height="1.00" fill="#ffffff" /><rect x="431.00" y="147.00" width="2.00" height="1.00" fill="#ffffff" /><rect x="431.00" y="149.00" width="2.00" height="2.00" fill="#ffffff" /><rect x="431.00" y="152.00" width="2.00" height="1.00" fill="#ffffff" /><rect x="434.00" y="145.00" width="2.00" height="1.00" fill="#ffffff" /><rect x="434.00" y="147.00" width="2.00" height="1.00" fill="#ffffff" /><rect x="434.00" y="149.00" width="2.00" height="2.00" fill="#ffffff" /><rect x="434.00" y="152.00" width="2.00" height="1.00" fill="#ffffff" /><rect x="437.00" y="145.00" width="1.00" height="1.00" fill="#ffffff" /><rect x="437.00" y="147.00" width="1.00" height="1.00" fill="#ffffff" /><rect x="437.00" y="149.00" width="1.00" height="2.00" fill="#ffffff" /><rect x="437.00" y="152.00" width="1.00" height="1.00" fill="#ffffff" /><rect x="439.00" y="145.00" width="2.00" height="1.00" fill="#ffffff" /><rect x="439.00" y="147.00" width="2.00" height="1.00" fill="#ffffff" /><rect x="439.00" y="149.00" width="2.00" height="2.00" fill="#ffffff" /><rect x="439.00" y="152.00" width="2.00" height="1.00" fill="#ffffff" /><rect x="442.00" y="145.00" width="1.00" height="1.00" fill="#ffffff" /><rect x="442.00" y="147.00" width="1.00" height="1.00" fill="#ffffff" /><rect x="442.00" y="149.00" width="1.00" height="2.00" fill="#ffffff" /><rect x="442.00" y="152.00" width="1.00" height="1.00" fill="#ffffff" /><rect x="444.00" y="145.00" width="2.00" height="1.00" fill="#ffffff" /><rect x="444.00" y="147.00" width="2.00" height="1.00" fill="#ffffff" /><rect x="444.00" y="149.00" width="2.00" height="2.00" fill="#ffffff" /><rect x="444.00" y="152.00" width="2.00" height="1.00" fill="#ffffff" /><rect x="447.00" y="145.00" width="2.00" height="1.00" fill="#ffffff" /><rect x="447.00" y="147.00" width="2.00" height="1.00" fill="#ffffff" /><rect x="447.00" y="149.00" width="2.00" height="2.00" fill="#ffffff" /><rect x="447.00" y="152.00" width="2.00" height="1.00" fill="#ffffff" /><rect x="450.00" y="145.00" width="1.00" height="1.00" fill="#ffffff" /><rect x="450.00" y="147.00" width="1.00" height="1.00" fill="#ffffff" /><rect x="450.00" y="149.00" width="1.00" height="2.00" fill="#ffffff" /><rect x="450.00" y="152.00" width="1.00" height="1.00" fill="#ffffff" /><rect x="395.90" y="85.70" width="6.10" height="3.30" fill="#93979e" /><rect x="455.80" y="140.00" width="9.70" height="16.80" fill="#93979e" /><rect x="370.00" y="106.00" width="112.70" height="2.40" fill="#151115" /><rect x="370.00" y="136.10" width="112.70" height="2.60" fill="#151115" /><rect x="371.00" y="108.40" width="62.20" height="27.70" fill="#ffffff" /><line x1="381.00" y1="109.90" x2="433.20" y2="109.90" stroke="#151115" stroke-width="1.0"/><line x1="381.00" y1="112.30" x2="433.20" y2="112.30" stroke="#151115" stroke-width="1.0"/><line x1="381.00" y1="116.10" x2="433.20" y2="116.10" stroke="#151115" stroke-width="1.0"/><line x1="381.00" y1="127.70" x2="433.20" y2="127.70" stroke="#151115" stroke-width="1.0"/><line x1="381.00" y1="132.30" x2="433.20" y2="132.30" stroke="#151115" stroke-width="1.0"/><line x1="381.00" y1="134.80" x2="433.20" y2="134.80" stroke="#151115" stroke-width="1.0"/><line x1="381.00" y1="108.40" x2="381.00" y2="136.10" stroke="#151115" stroke-width="1.0"/><line x1="433.20" y1="108.40" x2="433.20" y2="136.10" stroke="#151115" stroke-width="1.0"/><rect x="433.20" y="108.40" width="43.20" height="27.70" fill="#6e7074" /><rect x="433.20" y="108.40" width="7.80" height="9.60" fill="#ffffff" /><rect x="433.20" y="126.00" width="7.80" height="10.10" fill="#ffffff" /><rect x="433.20" y="117.80" width="43.20" height="8.00" fill="#ffffff" /><line x1="433.20" y1="117.80" x2="476.40" y2="117.80" stroke="#151115" stroke-width="1"/><line x1="433.20" y1="125.80" x2="476.40" y2="125.80" stroke="#151115" stroke-width="1"/><rect x="456.00" y="114.60" width="1.10" height="2.80" fill="#ffffff" /><rect x="456.00" y="127.60" width="1.10" height="2.60" fill="#ffffff" /><rect x="458.00" y="114.60" width="1.10" height="2.80" fill="#ffffff" /><rect x="458.00" y="127.60" width="1.10" height="2.60" fill="#ffffff" /><rect x="460.00" y="114.60" width="1.10" height="2.80" fill="#ffffff" /><rect x="460.00" y="127.60" width="1.10" height="2.60" fill="#ffffff" /><rect x="462.00" y="114.60" width="1.10" height="2.80" fill="#ffffff" /><rect x="462.00" y="127.60" width="1.10" height="2.60" fill="#ffffff" /><rect x="464.00" y="114.60" width="1.10" height="2.80" fill="#ffffff" /><rect x="464.00" y="127.60" width="1.10" height="2.60" fill="#ffffff" /><rect x="466.00" y="114.60" width="1.10" height="2.80" fill="#ffffff" /><rect x="466.00" y="127.60" width="1.10" height="2.60" fill="#ffffff" /><rect x="468.00" y="114.60" width="1.10" height="2.80" fill="#ffffff" /><rect x="468.00" y="127.60" width="1.10" height="2.60" fill="#ffffff" /><rect x="470.00" y="114.60" width="1.10" height="2.80" fill="#ffffff" /><rect x="470.00" y="127.60" width="1.10" height="2.60" fill="#ffffff" /><rect x="472.00" y="114.60" width="1.10" height="2.80" fill="#ffffff" /><rect x="472.00" y="127.60" width="1.10" height="2.60" fill="#ffffff" /><rect x="474.00" y="114.60" width="1.10" height="2.80" fill="#ffffff" /><rect x="474.00" y="127.60" width="1.10" height="2.60" fill="#ffffff" /><rect x="476.00" y="114.60" width="1.10" height="2.80" fill="#ffffff" /><rect x="476.00" y="127.60" width="1.10" height="2.60" fill="#ffffff" /><rect x="476.60" y="108.80" width="7.40" height="26.50" fill="#ffffff" stroke="#151115" stroke-width="1.2" rx="1.5" /><rect x="466.00" y="117.90" width="18.00" height="9.20" fill="#ffffff" /><line x1="466.00" y1="117.90" x2="476.60" y2="117.90" stroke="#151115" stroke-width="1"/><line x1="466.00" y1="127.10" x2="476.60" y2="127.10" stroke="#151115" stroke-width="1"/><line x1="485.60" y1="110.00" x2="485.60" y2="134.00" stroke="#151115" stroke-width="1.2"/><path d="M486.2,113.5 L489.5,117.5 M486.2,131 L489.5,127" fill="none" stroke="#151115" stroke-width="0.9" /><path d="M347.5,94.5 L372.5,94.5 L378.5,98 L378.5,146.5 L372.5,150 L347.5,150 Q343.6,150 343.6,146 L343.6,98.5 Q343.6,94.5 347.5,94.5 Z" fill="#93979e" stroke="#151115" stroke-width="2.4" /><path d="M371.5,106 L378.7,97.7 L378.7,106 Z" fill="#ffffff" /><path d="M371.5,138.7 L378.7,147 L378.7,138.7 Z" fill="#ffffff" /><rect x="345.00" y="112.00" width="26.60" height="21.20" fill="#93979e" /><rect x="345.00" y="117.70" width="27.00" height="2.00" fill="#151115" /><rect x="345.00" y="126.10" width="27.00" height="1.50" fill="#151115" /><rect x="346.50" y="119.70" width="25.50" height="6.40" fill="#ffffff" /><rect x="360.50" y="119.70" width="3.00" height="1.80" fill="#151115" /><rect x="360.50" y="124.30" width="3.00" height="1.80" fill="#151115" /><rect x="358.80" y="107.40" width="12.70" height="4.60" fill="#6e7074" /><rect x="358.80" y="133.20" width="12.70" height="4.20" fill="#6e7074" /><rect x="358.80" y="105.60" width="13.20" height="2.00" fill="#151115" /><rect x="358.80" y="137.20" width="13.20" height="2.00" fill="#151115" /><path d="M358.8,105.6 L356.6,105.6 Q354,105.6 354,108.2 Q354,111.6 357,111.8 L358.8,112" fill="#6e7074" stroke="#151115" stroke-width="1.3" /><rect x="355.60" y="107.20" width="3.00" height="3.10" fill="#ffffff" /><path d="M358.8,139.2 L356.6,139.2 Q354,139.2 354,136.6 Q354,133.2 357,133 L358.8,132.8" fill="#6e7074" stroke="#151115" stroke-width="1.3" /><rect x="355.60" y="134.50" width="3.00" height="3.10" fill="#ffffff" /><rect x="371.50" y="108.00" width="8.50" height="28.60" fill="#ffffff" stroke="#151115" stroke-width="1" /><rect x="371.50" y="115.50" width="2.00" height="13.00" fill="#ffffff" stroke="#151115" stroke-width="0.8" /><line x1="372.50" y1="108.40" x2="372.50" y2="136.60" stroke="#151115" stroke-width="0.8"/><rect x="400.30" y="72.80" width="66.60" height="13.20" fill="#151115" /><rect x="415.50" y="64.50" width="51.10" height="11.00" fill="#151115" /><rect x="419.90" y="68.60" width="42.90" height="6.40" fill="#ffffff" /><path d="M378.7,28.5 L386.5,28.5 L388,31.5 L393,31.5 L394.5,28.5 L419.7,28.5 L419.7,27.7 L462,27.7 Q465.3,27.7 465.3,31 L465.3,67 L419.7,67 L419.7,65.2 L394.5,65.2 L393,62.2 L388,62.2 L386.5,65.2 L378.7,65.2 Z" fill="#ffffff" stroke="#151115" stroke-width="3" /><line x1="419.70" y1="27.70" x2="419.70" y2="67.00" stroke="#151115" stroke-width="1.3"/><line x1="394.30" y1="30.00" x2="394.30" y2="63.50" stroke="#151115" stroke-width="1.0"/><line x1="387.50" y1="31.50" x2="387.50" y2="62.20" stroke="#151115" stroke-width="1.1"/><line x1="380.00" y1="38.40" x2="387.50" y2="38.40" stroke="#151115" stroke-width="1"/><line x1="380.00" y1="55.30" x2="387.50" y2="55.30" stroke="#151115" stroke-width="1"/><rect x="397.20" y="41.00" width="22.50" height="10.70" fill="#ffffff" stroke="#151115" stroke-width="1.1" /><line x1="426.00" y1="32.20" x2="456.00" y2="32.20" stroke="#151115" stroke-width="1.1"/><line x1="426.00" y1="35.30" x2="456.00" y2="35.30" stroke="#151115" stroke-width="1.1"/><line x1="426.00" y1="38.40" x2="456.00" y2="38.40" stroke="#151115" stroke-width="1.1"/><line x1="426.00" y1="41.50" x2="456.00" y2="41.50" stroke="#151115" stroke-width="1.1"/><line x1="426.00" y1="45.20" x2="456.00" y2="45.20" stroke="#151115" stroke-width="1.1"/><line x1="426.00" y1="48.30" x2="456.00" y2="48.30" stroke="#151115" stroke-width="1.1"/><line x1="426.00" y1="51.40" x2="456.00" y2="51.40" stroke="#151115" stroke-width="1.1"/><line x1="426.00" y1="55.00" x2="456.00" y2="55.00" stroke="#151115" stroke-width="1.1"/><line x1="426.00" y1="58.60" x2="456.00" y2="58.60" stroke="#151115" stroke-width="1.1"/>
<g transform="matrix(-1 0 0 1 1046 0)"><path d="M382.5,84.3 L466.3,84.3 L466.3,160 L382.5,160 Q378.3,160 378.3,155.8 L378.3,88.5 Q378.3,84.3 382.5,84.3 Z" fill="#93979e" stroke="#151115" stroke-width="2.6" /><rect x="395.30" y="85.70" width="60.60" height="20.40" fill="#151115" /><rect x="395.30" y="139.20" width="60.60" height="16.70" fill="#151115" /><rect x="400.00" y="91.00" width="1.00" height="1.00" fill="#ffffff" /><rect x="400.00" y="93.00" width="1.00" height="2.00" fill="#ffffff" /><rect x="400.00" y="96.00" width="1.00" height="1.00" fill="#ffffff" /><rect x="400.00" y="98.00" width="1.00" height="1.00" fill="#ffffff" /><rect x="400.00" y="100.00" width="1.00" height="1.00" fill="#ffffff" /><rect x="402.00" y="91.00" width="2.00" height="1.00" fill="#ffffff" /><rect x="402.00" y="93.00" width="2.00" height="2.00" fill="#ffffff" /><rect x="402.00" y="96.00" width="2.00" height="1.00" fill="#ffffff" /><rect x="402.00" y="98.00" width="2.00" height="1.00" fill="#ffffff" /><rect x="402.00" y="100.00" width="2.00" height="1.00" fill="#ffffff" /><rect x="405.00" y="91.00" width="1.00" height="1.00" fill="#ffffff" /><rect x="405.00" y="93.00" width="1.00" height="2.00" fill="#ffffff" /><rect x="405.00" y="96.00" width="1.00" height="1.00" fill="#ffffff" /><rect x="405.00" y="98.00" width="1.00" height="1.00" fill="#ffffff" /><rect x="405.00" y="100.00" width="1.00" height="1.00" fill="#ffffff" /><rect x="407.00" y="91.00" width="2.00" height="1.00" fill="#ffffff" /><rect x="407.00" y="93.00" width="2.00" height="2.00" fill="#ffffff" /><rect x="407.00" y="96.00" width="2.00" height="1.00" fill="#ffffff" /><rect x="407.00" y="98.00" width="2.00" height="1.00" fill="#ffffff" /><rect x="407.00" y="100.00" width="2.00" height="1.00" fill="#ffffff" /><rect x="410.00" y="91.00" width="2.00" height="1.00" fill="#ffffff" /><rect x="410.00" y="93.00" width="2.00" height="2.00" fill="#ffffff" /><rect x="410.00" y="96.00" width="2.00" height="1.00" fill="#ffffff" /><rect x="410.00" y="98.00" width="2.00" height="1.00" fill="#ffffff" /><rect x="410.00" y="100.00" width="2.00" height="1.00" fill="#ffffff" /><rect x="413.00" y="91.00" width="1.00" height="1.00" fill="#ffffff" /><rect x="413.00" y="93.00" width="1.00" height="2.00" fill="#ffffff" /><rect x="413.00" y="96.00" width="1.00" height="1.00" fill="#ffffff" /><rect x="413.00" y="98.00" width="1.00" height="1.00" fill="#ffffff" /><rect x="413.00" y="100.00" width="1.00" height="1.00" fill="#ffffff" /><rect x="415.00" y="91.00" width="2.00" height="1.00" fill="#ffffff" /><rect x="415.00" y="93.00" width="2.00" height="2.00" fill="#ffffff" /><rect x="415.00" y="96.00" width="2.00" height="1.00" fill="#ffffff" /><rect x="415.00" y="98.00" width="2.00" height="1.00" fill="#ffffff" /><rect x="415.00" y="100.00" width="2.00" height="1.00" fill="#ffffff" /><rect x="418.00" y="91.00" width="1.00" height="1.00" fill="#ffffff" /><rect x="418.00" y="93.00" width="1.00" height="2.00" fill="#ffffff" /><rect x="418.00" y="96.00" width="1.00" height="1.00" fill="#ffffff" /><rect x="418.00" y="98.00" width="1.00" height="1.00" fill="#ffffff" /><rect x="418.00" y="100.00" width="1.00" height="1.00" fill="#ffffff" /><rect x="420.00" y="91.00" width="2.00" height="1.00" fill="#ffffff" /><rect x="420.00" y="93.00" width="2.00" height="2.00" fill="#ffffff" /><rect x="420.00" y="96.00" width="2.00" height="1.00" fill="#ffffff" /><rect x="420.00" y="98.00" width="2.00" height="1.00" fill="#ffffff" /><rect x="420.00" y="100.00" width="2.00" height="1.00" fill="#ffffff" /><rect x="423.00" y="91.00" width="2.00" height="1.00" fill="#ffffff" /><rect x="423.00" y="93.00" width="2.00" height="2.00" fill="#ffffff" /><rect x="423.00" y="96.00" width="2.00" height="1.00" fill="#ffffff" /><rect x="423.00" y="98.00" width="2.00" height="1.00" fill="#ffffff" /><rect x="423.00" y="100.00" width="2.00" height="1.00" fill="#ffffff" /><rect x="426.00" y="91.00" width="1.00" height="1.00" fill="#ffffff" /><rect x="426.00" y="93.00" width="1.00" height="2.00" fill="#ffffff" /><rect x="426.00" y="96.00" width="1.00" height="1.00" fill="#ffffff" /><rect x="426.00" y="98.00" width="1.00" height="1.00" fill="#ffffff" /><rect x="426.00" y="100.00" width="1.00" height="1.00" fill="#ffffff" /><rect x="428.00" y="91.00" width="2.00" height="1.00" fill="#ffffff" /><rect x="428.00" y="93.00" width="2.00" height="2.00" fill="#ffffff" /><rect x="428.00" y="96.00" width="2.00" height="1.00" fill="#ffffff" /><rect x="428.00" y="98.00" width="2.00" height="1.00" fill="#ffffff" /><rect x="428.00" y="100.00" width="2.00" height="1.00" fill="#ffffff" /><rect x="431.00" y="91.00" width="1.00" height="1.00" fill="#ffffff" /><rect x="431.00" y="93.00" width="1.00" height="2.00" fill="#ffffff" /><rect x="431.00" y="96.00" width="1.00" height="1.00" fill="#ffffff" /><rect x="431.00" y="98.00" width="1.00" height="1.00" fill="#ffffff" /><rect x="431.00" y="100.00" width="1.00" height="1.00" fill="#ffffff" /><rect x="433.00" y="91.00" width="2.00" height="1.00" fill="#ffffff" /><rect x="433.00" y="93.00" width="2.00" height="2.00" fill="#ffffff" /><rect x="433.00" y="96.00" width="2.00" height="1.00" fill="#ffffff" /><rect x="433.00" y="98.00" width="2.00" height="1.00" fill="#ffffff" /><rect x="433.00" y="100.00" width="2.00" height="1.00" fill="#ffffff" /><rect x="436.00" y="91.00" width="2.00" height="1.00" fill="#ffffff" /><rect x="436.00" y="93.00" width="2.00" height="2.00" fill="#ffffff" /><rect x="436.00" y="96.00" width="2.00" height="1.00" fill="#ffffff" /><rect x="436.00" y="98.00" width="2.00" height="1.00" fill="#ffffff" /><rect x="436.00" y="100.00" width="2.00" height="1.00" fill="#ffffff" /><rect x="439.00" y="91.00" width="1.00" height="1.00" fill="#ffffff" /><rect x="439.00" y="93.00" width="1.00" height="2.00" fill="#ffffff" /><rect x="439.00" y="96.00" width="1.00" height="1.00" fill="#ffffff" /><rect x="439.00" y="98.00" width="1.00" height="1.00" fill="#ffffff" /><rect x="439.00" y="100.00" width="1.00" height="1.00" fill="#ffffff" /><rect x="441.00" y="91.00" width="2.00" height="1.00" fill="#ffffff" /><rect x="441.00" y="93.00" width="2.00" height="2.00" fill="#ffffff" /><rect x="441.00" y="96.00" width="2.00" height="1.00" fill="#ffffff" /><rect x="441.00" y="98.00" width="2.00" height="1.00" fill="#ffffff" /><rect x="441.00" y="100.00" width="2.00" height="1.00" fill="#ffffff" /><rect x="444.00" y="91.00" width="1.00" height="1.00" fill="#ffffff" /><rect x="444.00" y="93.00" width="1.00" height="2.00" fill="#ffffff" /><rect x="444.00" y="96.00" width="1.00" height="1.00" fill="#ffffff" /><rect x="444.00" y="98.00" width="1.00" height="1.00" fill="#ffffff" /><rect x="444.00" y="100.00" width="1.00" height="1.00" fill="#ffffff" /><rect x="446.00" y="91.00" width="2.00" height="1.00" fill="#ffffff" /><rect x="446.00" y="93.00" width="2.00" height="2.00" fill="#ffffff" /><rect x="446.00" y="96.00" width="2.00" height="1.00" fill="#ffffff" /><rect x="446.00" y="98.00" width="2.00" height="1.00" fill="#ffffff" /><rect x="446.00" y="100.00" width="2.00" height="1.00" fill="#ffffff" /><rect x="449.00" y="91.00" width="2.00" height="1.00" fill="#ffffff" /><rect x="449.00" y="93.00" width="2.00" height="2.00" fill="#ffffff" /><rect x="449.00" y="96.00" width="2.00" height="1.00" fill="#ffffff" /><rect x="449.00" y="98.00" width="2.00" height="1.00" fill="#ffffff" /><rect x="449.00" y="100.00" width="2.00" height="1.00" fill="#ffffff" /><rect x="398.00" y="145.00" width="1.00" height="1.00" fill="#ffffff" /><rect x="398.00" y="147.00" width="1.00" height="1.00" fill="#ffffff" /><rect x="398.00" y="149.00" width="1.00" height="2.00" fill="#ffffff" /><rect x="398.00" y="152.00" width="1.00" height="1.00" fill="#ffffff" /><rect x="400.00" y="145.00" width="2.00" height="1.00" fill="#ffffff" /><rect x="400.00" y="147.00" width="2.00" height="1.00" fill="#ffffff" /><rect x="400.00" y="149.00" width="2.00" height="2.00" fill="#ffffff" /><rect x="400.00" y="152.00" width="2.00" height="1.00" fill="#ffffff" /><rect x="403.00" y="145.00" width="1.00" height="1.00" fill="#ffffff" /><rect x="403.00" y="147.00" width="1.00" height="1.00" fill="#ffffff" /><rect x="403.00" y="149.00" width="1.00" height="2.00" fill="#ffffff" /><rect x="403.00" y="152.00" width="1.00" height="1.00" fill="#ffffff" /><rect x="405.00" y="145.00" width="2.00" height="1.00" fill="#ffffff" /><rect x="405.00" y="147.00" width="2.00" height="1.00" fill="#ffffff" /><rect x="405.00" y="149.00" width="2.00" height="2.00" fill="#ffffff" /><rect x="405.00" y="152.00" width="2.00" height="1.00" fill="#ffffff" /><rect x="408.00" y="145.00" width="2.00" height="1.00" fill="#ffffff" /><rect x="408.00" y="147.00" width="2.00" height="1.00" fill="#ffffff" /><rect x="408.00" y="149.00" width="2.00" height="2.00" fill="#ffffff" /><rect x="408.00" y="152.00" width="2.00" height="1.00" fill="#ffffff" /><rect x="411.00" y="145.00" width="1.00" height="1.00" fill="#ffffff" /><rect x="411.00" y="147.00" width="1.00" height="1.00" fill="#ffffff" /><rect x="411.00" y="149.00" width="1.00" height="2.00" fill="#ffffff" /><rect x="411.00" y="152.00" width="1.00" height="1.00" fill="#ffffff" /><rect x="413.00" y="145.00" width="2.00" height="1.00" fill="#ffffff" /><rect x="413.00" y="147.00" width="2.00" height="1.00" fill="#ffffff" /><rect x="413.00" y="149.00" width="2.00" height="2.00" fill="#ffffff" /><rect x="413.00" y="152.00" width="2.00" height="1.00" fill="#ffffff" /><rect x="416.00" y="145.00" width="1.00" height="1.00" fill="#ffffff" /><rect x="416.00" y="147.00" width="1.00" height="1.00" fill="#ffffff" /><rect x="416.00" y="149.00" width="1.00" height="2.00" fill="#ffffff" /><rect x="416.00" y="152.00" width="1.00" height="1.00" fill="#ffffff" /><rect x="418.00" y="145.00" width="2.00" height="1.00" fill="#ffffff" /><rect x="418.00" y="147.00" width="2.00" height="1.00" fill="#ffffff" /><rect x="418.00" y="149.00" width="2.00" height="2.00" fill="#ffffff" /><rect x="418.00" y="152.00" width="2.00" height="1.00" fill="#ffffff" /><rect x="421.00" y="145.00" width="2.00" height="1.00" fill="#ffffff" /><rect x="421.00" y="147.00" width="2.00" height="1.00" fill="#ffffff" /><rect x="421.00" y="149.00" width="2.00" height="2.00" fill="#ffffff" /><rect x="421.00" y="152.00" width="2.00" height="1.00" fill="#ffffff" /><rect x="424.00" y="145.00" width="1.00" height="1.00" fill="#ffffff" /><rect x="424.00" y="147.00" width="1.00" height="1.00" fill="#ffffff" /><rect x="424.00" y="149.00" width="1.00" height="2.00" fill="#ffffff" /><rect x="424.00" y="152.00" width="1.00" height="1.00" fill="#ffffff" /><rect x="426.00" y="145.00" width="2.00" height="1.00" fill="#ffffff" /><rect x="426.00" y="147.00" width="2.00" height="1.00" fill="#ffffff" /><rect x="426.00" y="149.00" width="2.00" height="2.00" fill="#ffffff" /><rect x="426.00" y="152.00" width="2.00" height="1.00" fill="#ffffff" /><rect x="429.00" y="145.00" width="1.00" height="1.00" fill="#ffffff" /><rect x="429.00" y="147.00" width="1.00" height="1.00" fill="#ffffff" /><rect x="429.00" y="149.00" width="1.00" height="2.00" fill="#ffffff" /><rect x="429.00" y="152.00" width="1.00" height="1.00" fill="#ffffff" /><rect x="431.00" y="145.00" width="2.00" height="1.00" fill="#ffffff" /><rect x="431.00" y="147.00" width="2.00" height="1.00" fill="#ffffff" /><rect x="431.00" y="149.00" width="2.00" height="2.00" fill="#ffffff" /><rect x="431.00" y="152.00" width="2.00" height="1.00" fill="#ffffff" /><rect x="434.00" y="145.00" width="2.00" height="1.00" fill="#ffffff" /><rect x="434.00" y="147.00" width="2.00" height="1.00" fill="#ffffff" /><rect x="434.00" y="149.00" width="2.00" height="2.00" fill="#ffffff" /><rect x="434.00" y="152.00" width="2.00" height="1.00" fill="#ffffff" /><rect x="437.00" y="145.00" width="1.00" height="1.00" fill="#ffffff" /><rect x="437.00" y="147.00" width="1.00" height="1.00" fill="#ffffff" /><rect x="437.00" y="149.00" width="1.00" height="2.00" fill="#ffffff" /><rect x="437.00" y="152.00" width="1.00" height="1.00" fill="#ffffff" /><rect x="439.00" y="145.00" width="2.00" height="1.00" fill="#ffffff" /><rect x="439.00" y="147.00" width="2.00" height="1.00" fill="#ffffff" /><rect x="439.00" y="149.00" width="2.00" height="2.00" fill="#ffffff" /><rect x="439.00" y="152.00" width="2.00" height="1.00" fill="#ffffff" /><rect x="442.00" y="145.00" width="1.00" height="1.00" fill="#ffffff" /><rect x="442.00" y="147.00" width="1.00" height="1.00" fill="#ffffff" /><rect x="442.00" y="149.00" width="1.00" height="2.00" fill="#ffffff" /><rect x="442.00" y="152.00" width="1.00" height="1.00" fill="#ffffff" /><rect x="444.00" y="145.00" width="2.00" height="1.00" fill="#ffffff" /><rect x="444.00" y="147.00" width="2.00" height="1.00" fill="#ffffff" /><rect x="444.00" y="149.00" width="2.00" height="2.00" fill="#ffffff" /><rect x="444.00" y="152.00" width="2.00" height="1.00" fill="#ffffff" /><rect x="447.00" y="145.00" width="2.00" height="1.00" fill="#ffffff" /><rect x="447.00" y="147.00" width="2.00" height="1.00" fill="#ffffff" /><rect x="447.00" y="149.00" width="2.00" height="2.00" fill="#ffffff" /><rect x="447.00" y="152.00" width="2.00" height="1.00" fill="#ffffff" /><rect x="450.00" y="145.00" width="1.00" height="1.00" fill="#ffffff" /><rect x="450.00" y="147.00" width="1.00" height="1.00" fill="#ffffff" /><rect x="450.00" y="149.00" width="1.00" height="2.00" fill="#ffffff" /><rect x="450.00" y="152.00" width="1.00" height="1.00" fill="#ffffff" /><rect x="395.90" y="85.70" width="6.10" height="3.30" fill="#93979e" /><rect x="455.80" y="140.00" width="9.70" height="16.80" fill="#93979e" /><rect x="370.00" y="106.00" width="112.70" height="2.40" fill="#151115" /><rect x="370.00" y="136.10" width="112.70" height="2.60" fill="#151115" /><rect x="371.00" y="108.40" width="62.20" height="27.70" fill="#ffffff" /><line x1="381.00" y1="109.90" x2="433.20" y2="109.90" stroke="#151115" stroke-width="1.0"/><line x1="381.00" y1="112.30" x2="433.20" y2="112.30" stroke="#151115" stroke-width="1.0"/><line x1="381.00" y1="116.10" x2="433.20" y2="116.10" stroke="#151115" stroke-width="1.0"/><line x1="381.00" y1="127.70" x2="433.20" y2="127.70" stroke="#151115" stroke-width="1.0"/><line x1="381.00" y1="132.30" x2="433.20" y2="132.30" stroke="#151115" stroke-width="1.0"/><line x1="381.00" y1="134.80" x2="433.20" y2="134.80" stroke="#151115" stroke-width="1.0"/><line x1="381.00" y1="108.40" x2="381.00" y2="136.10" stroke="#151115" stroke-width="1.0"/><line x1="433.20" y1="108.40" x2="433.20" y2="136.10" stroke="#151115" stroke-width="1.0"/><rect x="433.20" y="108.40" width="43.20" height="27.70" fill="#6e7074" /><rect x="433.20" y="108.40" width="7.80" height="9.60" fill="#ffffff" /><rect x="433.20" y="126.00" width="7.80" height="10.10" fill="#ffffff" /><rect x="433.20" y="117.80" width="43.20" height="8.00" fill="#ffffff" /><line x1="433.20" y1="117.80" x2="476.40" y2="117.80" stroke="#151115" stroke-width="1"/><line x1="433.20" y1="125.80" x2="476.40" y2="125.80" stroke="#151115" stroke-width="1"/><rect x="456.00" y="114.60" width="1.10" height="2.80" fill="#ffffff" /><rect x="456.00" y="127.60" width="1.10" height="2.60" fill="#ffffff" /><rect x="458.00" y="114.60" width="1.10" height="2.80" fill="#ffffff" /><rect x="458.00" y="127.60" width="1.10" height="2.60" fill="#ffffff" /><rect x="460.00" y="114.60" width="1.10" height="2.80" fill="#ffffff" /><rect x="460.00" y="127.60" width="1.10" height="2.60" fill="#ffffff" /><rect x="462.00" y="114.60" width="1.10" height="2.80" fill="#ffffff" /><rect x="462.00" y="127.60" width="1.10" height="2.60" fill="#ffffff" /><rect x="464.00" y="114.60" width="1.10" height="2.80" fill="#ffffff" /><rect x="464.00" y="127.60" width="1.10" height="2.60" fill="#ffffff" /><rect x="466.00" y="114.60" width="1.10" height="2.80" fill="#ffffff" /><rect x="466.00" y="127.60" width="1.10" height="2.60" fill="#ffffff" /><rect x="468.00" y="114.60" width="1.10" height="2.80" fill="#ffffff" /><rect x="468.00" y="127.60" width="1.10" height="2.60" fill="#ffffff" /><rect x="470.00" y="114.60" width="1.10" height="2.80" fill="#ffffff" /><rect x="470.00" y="127.60" width="1.10" height="2.60" fill="#ffffff" /><rect x="472.00" y="114.60" width="1.10" height="2.80" fill="#ffffff" /><rect x="472.00" y="127.60" width="1.10" height="2.60" fill="#ffffff" /><rect x="474.00" y="114.60" width="1.10" height="2.80" fill="#ffffff" /><rect x="474.00" y="127.60" width="1.10" height="2.60" fill="#ffffff" /><rect x="476.00" y="114.60" width="1.10" height="2.80" fill="#ffffff" /><rect x="476.00" y="127.60" width="1.10" height="2.60" fill="#ffffff" /><rect x="476.60" y="108.80" width="7.40" height="26.50" fill="#ffffff" stroke="#151115" stroke-width="1.2" rx="1.5" /><rect x="466.00" y="117.90" width="18.00" height="9.20" fill="#ffffff" /><line x1="466.00" y1="117.90" x2="476.60" y2="117.90" stroke="#151115" stroke-width="1"/><line x1="466.00" y1="127.10" x2="476.60" y2="127.10" stroke="#151115" stroke-width="1"/><line x1="485.60" y1="110.00" x2="485.60" y2="134.00" stroke="#151115" stroke-width="1.2"/><path d="M486.2,113.5 L489.5,117.5 M486.2,131 L489.5,127" fill="none" stroke="#151115" stroke-width="0.9" /><path d="M347.5,94.5 L372.5,94.5 L378.5,98 L378.5,146.5 L372.5,150 L347.5,150 Q343.6,150 343.6,146 L343.6,98.5 Q343.6,94.5 347.5,94.5 Z" fill="#93979e" stroke="#151115" stroke-width="2.4" /><path d="M371.5,106 L378.7,97.7 L378.7,106 Z" fill="#ffffff" /><path d="M371.5,138.7 L378.7,147 L378.7,138.7 Z" fill="#ffffff" /><rect x="345.00" y="112.00" width="26.60" height="21.20" fill="#93979e" /><rect x="345.00" y="117.70" width="27.00" height="2.00" fill="#151115" /><rect x="345.00" y="126.10" width="27.00" height="1.50" fill="#151115" /><rect x="346.50" y="119.70" width="25.50" height="6.40" fill="#ffffff" /><rect x="360.50" y="119.70" width="3.00" height="1.80" fill="#151115" /><rect x="360.50" y="124.30" width="3.00" height="1.80" fill="#151115" /><rect x="358.80" y="107.40" width="12.70" height="4.60" fill="#6e7074" /><rect x="358.80" y="133.20" width="12.70" height="4.20" fill="#6e7074" /><rect x="358.80" y="105.60" width="13.20" height="2.00" fill="#151115" /><rect x="358.80" y="137.20" width="13.20" height="2.00" fill="#151115" /><path d="M358.8,105.6 L356.6,105.6 Q354,105.6 354,108.2 Q354,111.6 357,111.8 L358.8,112" fill="#6e7074" stroke="#151115" stroke-width="1.3" /><rect x="355.60" y="107.20" width="3.00" height="3.10" fill="#ffffff" /><path d="M358.8,139.2 L356.6,139.2 Q354,139.2 354,136.6 Q354,133.2 357,133 L358.8,132.8" fill="#6e7074" stroke="#151115" stroke-width="1.3" /><rect x="355.60" y="134.50" width="3.00" height="3.10" fill="#ffffff" /><rect x="371.50" y="108.00" width="8.50" height="28.60" fill="#ffffff" stroke="#151115" stroke-width="1" /><rect x="371.50" y="115.50" width="2.00" height="13.00" fill="#ffffff" stroke="#151115" stroke-width="0.8" /><line x1="372.50" y1="108.40" x2="372.50" y2="136.60" stroke="#151115" stroke-width="0.8"/><rect x="400.30" y="72.80" width="66.60" height="13.20" fill="#151115" /><rect x="415.50" y="64.50" width="51.10" height="11.00" fill="#151115" /><rect x="419.90" y="68.60" width="42.90" height="6.40" fill="#ffffff" /><path d="M378.7,28.5 L386.5,28.5 L388,31.5 L393,31.5 L394.5,28.5 L419.7,28.5 L419.7,27.7 L462,27.7 Q465.3,27.7 465.3,31 L465.3,67 L419.7,67 L419.7,65.2 L394.5,65.2 L393,62.2 L388,62.2 L386.5,65.2 L378.7,65.2 Z" fill="#ffffff" stroke="#151115" stroke-width="3" /><line x1="419.70" y1="27.70" x2="419.70" y2="67.00" stroke="#151115" stroke-width="1.3"/><line x1="394.30" y1="30.00" x2="394.30" y2="63.50" stroke="#151115" stroke-width="1.0"/><line x1="387.50" y1="31.50" x2="387.50" y2="62.20" stroke="#151115" stroke-width="1.1"/><line x1="380.00" y1="38.40" x2="387.50" y2="38.40" stroke="#151115" stroke-width="1"/><line x1="380.00" y1="55.30" x2="387.50" y2="55.30" stroke="#151115" stroke-width="1"/><rect x="397.20" y="41.00" width="22.50" height="10.70" fill="#ffffff" stroke="#151115" stroke-width="1.1" /><line x1="426.00" y1="32.20" x2="456.00" y2="32.20" stroke="#151115" stroke-width="1.1"/><line x1="426.00" y1="35.30" x2="456.00" y2="35.30" stroke="#151115" stroke-width="1.1"/><line x1="426.00" y1="38.40" x2="456.00" y2="38.40" stroke="#151115" stroke-width="1.1"/><line x1="426.00" y1="41.50" x2="456.00" y2="41.50" stroke="#151115" stroke-width="1.1"/><line x1="426.00" y1="45.20" x2="456.00" y2="45.20" stroke="#151115" stroke-width="1.1"/><line x1="426.00" y1="48.30" x2="456.00" y2="48.30" stroke="#151115" stroke-width="1.1"/><line x1="426.00" y1="51.40" x2="456.00" y2="51.40" stroke="#151115" stroke-width="1.1"/><line x1="426.00" y1="55.00" x2="456.00" y2="55.00" stroke="#151115" stroke-width="1.1"/><line x1="426.00" y1="58.60" x2="456.00" y2="58.60" stroke="#151115" stroke-width="1.1"/></g>
<circle cx="522.80" cy="26.50" r="16.4" fill="none" stroke="#151115" stroke-width="2.0"/><path d="M522.9,16 L525.1,16 L525.1,36.9 L522.9,36.9 L522.9,20.18 C521.4,19.344 518.9,19.971 517.4,19.971 L517.4,18.09 C519.9,18.09 522.1,17.254 522.9,16 Z" fill="#151115" /><line x1="522.50" y1="43.00" x2="522.50" y2="102.00" stroke="#151115" stroke-width="1.2"/><circle cx="522.50" cy="102.00" r="3" fill="#151115"/><circle cx="327.60" cy="203.60" r="16.4" fill="none" stroke="#151115" stroke-width="2.0"/><text x="327.6" y="214.0" text-anchor="middle" class="t" font-size="29" fill="#151115" stroke="#fff" stroke-width="0.15">4</text><line x1="344.00" y1="203.50" x2="433.80" y2="203.50" stroke="#151115" stroke-width="1.2"/><circle cx="439.60" cy="466.90" r="16.4" fill="none" stroke="#151115" stroke-width="2.0"/><text x="439.6" y="477.3" text-anchor="middle" class="t" font-size="29" fill="#151115" stroke="#fff" stroke-width="0.15">2</text><line x1="439.50" y1="351.00" x2="439.50" y2="450.50" stroke="#151115" stroke-width="1.2"/><circle cx="622.80" cy="467.00" r="16.4" fill="none" stroke="#151115" stroke-width="2.0"/><text x="622.8" y="477.4" text-anchor="middle" class="t" font-size="29" fill="#151115" stroke="#fff" stroke-width="0.15">3</text><line x1="622.50" y1="401.50" x2="622.50" y2="450.50" stroke="#151115" stroke-width="1.2"/><text transform="translate(478.9,444.9) scale(0.74,1)" x="0" y="0" class="t" font-weight="bold" font-size="21.6" fill="#151115">A</text><text transform="translate(551.3,444.9) scale(0.74,1)" x="0" y="0" class="t" font-weight="bold" font-size="21.6" fill="#151115">B</text><circle cx="22.50" cy="374.80" r="13.9" fill="none" stroke="#151115" stroke-width="1.7"/><path d="M22.900000000000002,366.2 L25.3,366.2 L25.3,382.5 L22.900000000000002,382.5 L22.900000000000002,369.46 C21.400000000000002,368.808 20.1,369.29699999999997 18.6,369.29699999999997 L18.6,367.83 C21.1,367.83 22.1,367.178 22.900000000000002,366.2 Z" fill="#151115" /><text x="47.7" y="384.2" class="t" font-size="23.4" fill="#231f20">Solenoid pilot valve</text><circle cx="22.50" cy="411.60" r="13.9" fill="none" stroke="#151115" stroke-width="1.7"/><text x="22.3" y="419.7" text-anchor="middle" class="t" font-size="23" fill="#151115">2</text><text x="47.7" y="420.0" class="t" font-size="23.4" fill="#231f20">Main spool</text><circle cx="22.50" cy="449.00" r="13.9" fill="none" stroke="#151115" stroke-width="1.7"/><text x="22.3" y="457.1" text-anchor="middle" class="t" font-size="23" fill="#151115">3</text><text x="47.7" y="457.2" class="t" font-size="23.4" fill="#231f20">Main body</text><circle cx="22.50" cy="484.90" r="13.9" fill="none" stroke="#151115" stroke-width="1.7"/><text x="22.3" y="493.0" text-anchor="middle" class="t" font-size="23" fill="#151115">4</text><text x="47.7" y="492.6" class="t" font-size="23.4" fill="#231f20">Adjustable chokes - option /H</text><text x="715.8" y="474.2" class="t" font-weight="bold" font-size="30.5" fill="#231f20">DPHE-471*/H</text>
</svg>
</body></html>
